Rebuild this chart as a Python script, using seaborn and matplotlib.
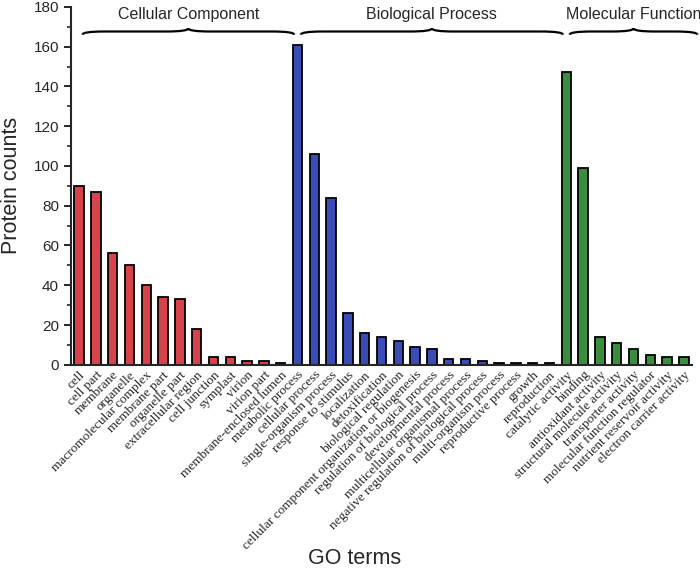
import numpy as np
import pandas as pd
import matplotlib
matplotlib.use("Agg")
import matplotlib.pyplot as plt
from matplotlib.path import Path
from matplotlib.patches import PathPatch
from matplotlib.ticker import MultipleLocator
import seaborn as sns

# ----------------------------
# Data
# ----------------------------
cc_terms = ["cell", "cell part", "membrane", "organelle", "macromolecular complex",
            "membrane part", "organelle part", "extracellular region", "cell junction",
            "symplast", "virion", "virion part", "membrane-enclosed lumen"]
cc_counts = [90, 87, 56, 50, 40, 34, 33, 18, 4, 4, 2, 2, 1]

bp_terms = ["metabolic process", "cellular process", "single-organism process",
            "response to stimulus", "localization", "detoxification",
            "biological regulation", "cellular component organization or biogenesis",
            "regulation of biological process", "developmental process",
            "multicellular organismal process", "negative regulation of biological process",
            "multi-organism process", "reproductive process", "growth", "reproduction"]
bp_counts = [161, 106, 84, 26, 16, 14, 12, 9, 8, 3, 3, 2, 1, 1, 1, 1]

mf_terms = ["catalytic activity", "binding", "antioxidant activity",
            "structural molecule activity", "transporter activity",
            "molecular function regulator", "nutrient reservoir activity",
            "electron carrier activity"]
mf_counts = [147, 99, 14, 11, 8, 5, 4, 4]

groups = ["Cellular Component", "Biological Process", "Molecular Function"]
colors = ["#d6434b", "#3a4cb5", "#3b8e3d"]

df = pd.DataFrame({
    "term": cc_terms + bp_terms + mf_terms,
    "count": cc_counts + bp_counts + mf_counts,
    "group": [groups[0]] * len(cc_terms) + [groups[1]] * len(bp_terms) + [groups[2]] * len(mf_terms),
})

# ----------------------------
# Plot
# ----------------------------
sns.set_style("ticks")
plt.rcParams["font.family"] = ["Liberation Sans", "DejaVu Sans"]

fig = plt.figure(figsize=(7, 5.7), dpi=100)
ax = fig.add_axes([0.101, 0.36, 0.888, 0.628])

sns.barplot(data=df, x="term", y="count", hue="group", palette=colors,
            saturation=1, dodge=False, width=0.55, edgecolor="black",
            linewidth=1.3, legend=False, ax=ax)

ax.set_ylim(0, 180)
ax.set_xlim(-0.5, len(df) - 0.5)
ax.yaxis.set_major_locator(MultipleLocator(20))
ax.yaxis.set_minor_locator(MultipleLocator(10))
ax.tick_params(axis="y", which="major", length=5, width=1.4, labelsize=11, direction="out")
ax.tick_params(axis="y", which="minor", length=3, width=1.2, direction="out")
ax.tick_params(axis="x", length=0, pad=3)
for lbl in ax.get_xticklabels():
    lbl.set_rotation(45)
    lbl.set_ha("right")
    lbl.set_rotation_mode("anchor")
    lbl.set_fontfamily(["Liberation Serif", "DejaVu Serif"])
    lbl.set_fontsize(9.6)

sns.despine(ax=ax)
ax.spines["left"].set_linewidth(1.5)
ax.spines["bottom"].set_linewidth(1.5)

ax.set_ylabel("Protein counts", fontsize=15.5, labelpad=8)
ax.set_xlabel("")
fig.text(0.507, 0.02, "GO terms", fontsize=15.5, ha="center", va="center")

# ----------------------------
# Curly braces above each group
# ----------------------------
def draw_brace(ax, x0, x1, y0, d, e):
    xm = (x0 + x1) / 2
    verts = [(x0, y0), (x0, y0 + d), (x0 + e, y0 + d),
             (xm - e, y0 + d),
             (xm, y0 + d), (xm, y0 + 2 * d),
             (xm, y0 + d), (xm + e, y0 + d),
             (x1 - e, y0 + d),
             (x1, y0 + d), (x1, y0)]
    codes = [Path.MOVETO, Path.CURVE3, Path.CURVE3,
             Path.LINETO,
             Path.CURVE3, Path.CURVE3,
             Path.CURVE3, Path.CURVE3,
             Path.LINETO,
             Path.CURVE3, Path.CURVE3]
    ax.add_patch(PathPatch(Path(verts, codes), fill=False, lw=1.6,
                           color="black", clip_on=False))

start = 0
for name, n in zip(groups, [len(cc_terms), len(bp_terms), len(mf_terms)]):
    x0 = start + 0.2
    x1 = start + n - 1 + 0.8
    draw_brace(ax, x0, x1, 166, 1.6, 1.3)
    ax.text((x0 + x1) / 2, 176, name, ha="center", va="center", fontsize=11.5)
    start += n

fig.savefig("out.png", dpi=100)
